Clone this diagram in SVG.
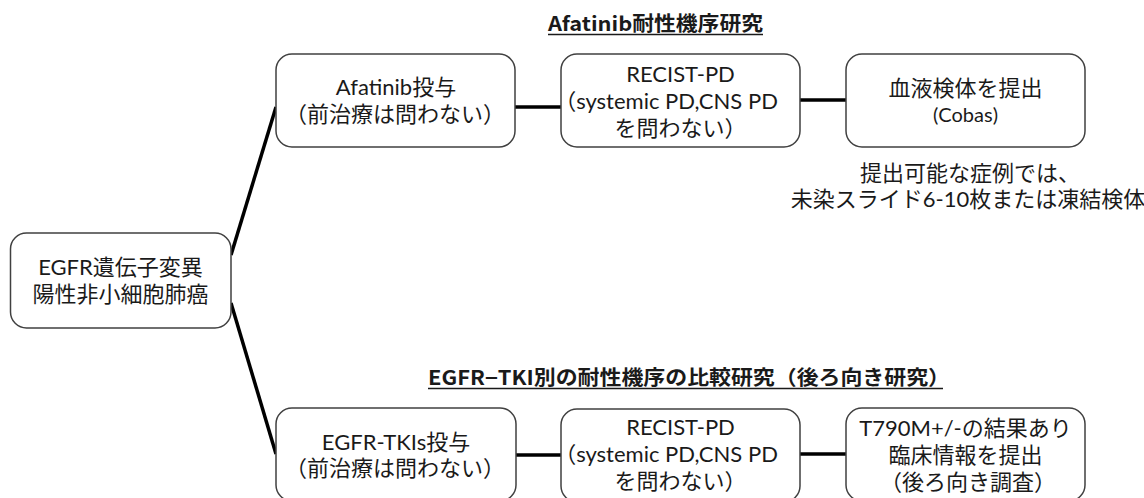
<svg xmlns="http://www.w3.org/2000/svg" width="1144" height="498" viewBox="0 0 1144 498">
  <style>
    .box { fill: #ffffff; stroke: #404040; stroke-width: 1.5; }
    .lbl { font-family: Lato, "Noto Sans CJK JP", sans-serif; font-size: 22px; fill: #1a1a1a; text-anchor: middle; }
    .sm { font-size: 20px; }
    .ttl { font-family: "Noto Sans CJK JP", "Liberation Sans", sans-serif; font-size: 20px; font-weight: bold; fill: #1a1a1a; }
    .ul { stroke: #1a1a1a; stroke-width: 1.5; }
    .conn { stroke: #000000; stroke-width: 3.5; fill: none; }
  </style>

  <!-- connectors -->
  <g id="connectors">
    <line class="conn" x1="231" y1="255" x2="276" y2="107"/>
    <line class="conn" x1="231" y1="303" x2="276" y2="454"/>
    <line class="conn" x1="515" y1="107" x2="561" y2="107"/>
    <line class="conn" x1="800" y1="100" x2="846" y2="100"/>
    <line class="conn" x1="516" y1="455" x2="561" y2="455"/>
    <line class="conn" x1="800" y1="454" x2="846" y2="454"/>
  </g>

  <!-- section titles -->
  <g id="title-afatinib">
    <text class="ttl" x="548" y="31" textLength="215" lengthAdjust="spacingAndGlyphs">Afatinib耐性機序研究</text>
    <line class="ul" x1="548" y1="34.5" x2="763" y2="34.5"/>
  </g>
  <g id="title-egfr-tki">
    <text class="ttl" x="428" y="385" textLength="522" lengthAdjust="spacingAndGlyphs">EGFR−TKI別の耐性機序の比較研究（後ろ向き研究）</text>
    <line class="ul" x1="428" y1="388.5" x2="943" y2="388.5"/>
  </g>

  <!-- root node -->
  <g id="node-egfr">
    <rect class="box" x="10.5" y="233" width="220.5" height="95" rx="16"/>
    <text class="lbl"><tspan x="120.5" y="275">EGFR遺伝子変異</tspan><tspan x="120.5" y="302">陽性非小細胞肺癌</tspan></text>
  </g>

  <!-- upper branch -->
  <g id="node-afatinib">
    <rect class="box" x="276" y="54" width="239" height="93" rx="16"/>
    <text class="lbl"><tspan x="396" y="95">Afatinib投与</tspan><tspan x="395" y="122">（前治療は問わない）</tspan></text>
  </g>
  <g id="node-pd-upper">
    <rect class="box" x="561" y="54" width="239" height="93" rx="16"/>
    <text class="lbl"><tspan x="680.5" y="82">RECIST-PD</tspan><tspan x="666" y="109">（systemic PD,CNS PD</tspan><tspan x="680.5" y="136">を問わない）</tspan></text>
  </g>
  <g id="node-blood">
    <rect class="box" x="846" y="54" width="239" height="93" rx="16"/>
    <text class="lbl"><tspan x="965.5" y="96">血液検体を提出</tspan><tspan class="sm" x="965.5" y="122">(Cobas)</tspan></text>
  </g>
  <g id="note-tissue">
    <text class="lbl"><tspan x="970" y="181">提出可能な症例では、</tspan><tspan x="968" y="207">未染スライド6-10枚または凍結検体</tspan></text>
  </g>

  <!-- lower branch -->
  <g id="node-egfr-tki">
    <rect class="box" x="276" y="408" width="240" height="93" rx="16"/>
    <text class="lbl"><tspan x="396" y="450">EGFR-TKIs投与</tspan><tspan x="395" y="476">（前治療は問わない）</tspan></text>
  </g>
  <g id="node-pd-lower">
    <rect class="box" x="561" y="409" width="239" height="93" rx="16"/>
    <text class="lbl"><tspan x="680.5" y="435">RECIST-PD</tspan><tspan x="666" y="462">（systemic PD,CNS PD</tspan><tspan x="680.5" y="489">を問わない）</tspan></text>
  </g>
  <g id="node-t790m">
    <rect class="box" x="846" y="408" width="239" height="93" rx="16"/>
    <text class="lbl"><tspan x="965.5" y="436">T790M+/-の結果あり</tspan><tspan x="965.5" y="463">臨床情報を提出</tspan><tspan x="968" y="490">（後ろ向き調査）</tspan></text>
  </g>
</svg>
